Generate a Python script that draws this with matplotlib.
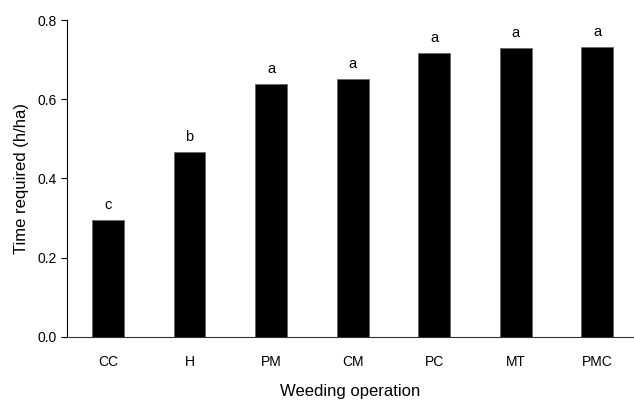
import matplotlib
matplotlib.use('Agg')
import matplotlib.pyplot as plt
import numpy as np

plt.rcParams['font.family'] = ['Liberation Sans', 'DejaVu Sans']

# data
operations = ['CC', 'H', 'PM', 'CM', 'PC', 'MT', 'PMC']
time_required = [0.295, 0.466, 0.639, 0.650, 0.717, 0.730, 0.732]
letters = ['c', 'b', 'a', 'a', 'a', 'a', 'a']

fig = plt.figure(figsize=(6.34, 4.0), dpi=100)
ax = fig.add_axes([0.106, 0.158, 0.894, 0.792])

x = np.arange(len(operations))
ax.bar(x, time_required, width=0.39, color='black', edgecolor='#666666', linewidth=0.6)

#有意差の文字
for xi, v, s in zip(x, time_required, letters):
    ax.text(xi, v + 0.02, s, ha='center', va='bottom', fontsize=10.5)

ax.set_xlim(-0.5, 6.45)
ax.set_ylim(0, 0.8)
ax.set_yticks([0.0, 0.2, 0.4, 0.6, 0.8])
ax.set_yticklabels(['0.0', '0.2', '0.4', '0.6', '0.8'])
ax.set_xticks(x)
ax.set_xticklabels(operations)
ax.tick_params(axis='x', length=0, pad=13, labelsize=10)
ax.tick_params(axis='y', length=4, width=0.8, labelsize=10, direction='out')

ax.spines['top'].set_visible(False)
ax.spines['right'].set_visible(False)
ax.spines['left'].set_linewidth(0.8)
ax.spines['bottom'].set_linewidth(0.8)
ax.spines['bottom'].set_color('#333333')

ax.set_xlabel('Weeding operation', fontsize=12, labelpad=11)
ax.set_ylabel('Time required (h/ha)', fontsize=12, labelpad=6)

fig.savefig('out.png', dpi=100)
